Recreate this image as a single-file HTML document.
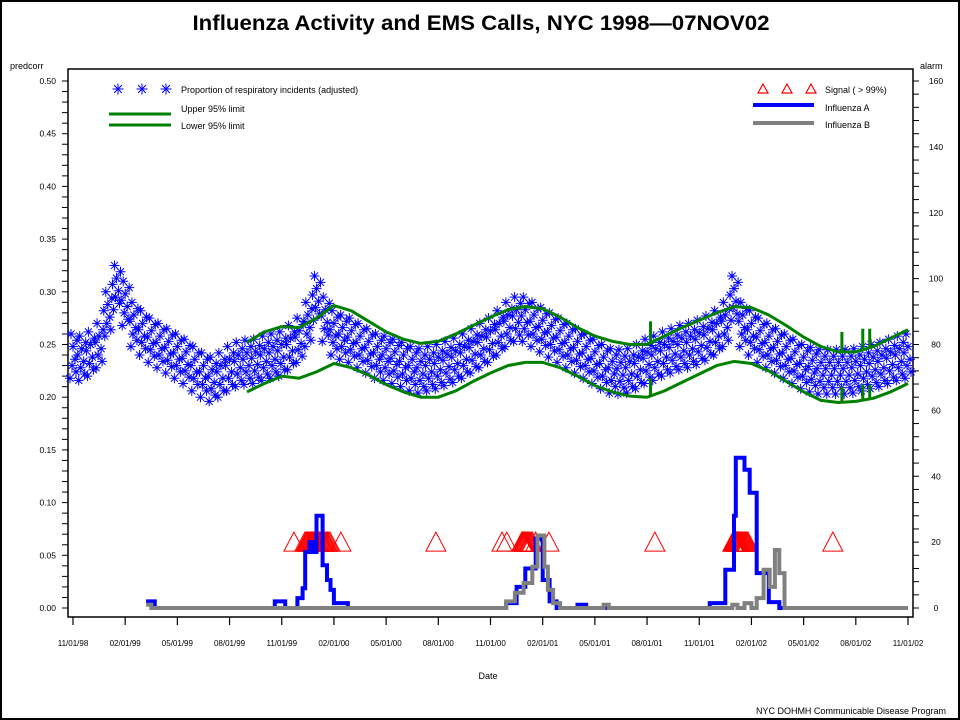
<!DOCTYPE html>
<html><head><meta charset="utf-8"><style>
html,body{margin:0;padding:0;background:#fff;}
svg{display:block;font-family:"Liberation Sans",sans-serif;}
</style></head><body>
<svg id="chart" width="960" height="720" viewBox="0 0 960 720">
<rect x="1" y="1" width="958" height="718" fill="#fff" stroke="#000" stroke-width="2"/>
<text x="481" y="30" text-anchor="middle" font-size="21" font-weight="bold" textLength="577" lengthAdjust="spacingAndGlyphs">Influenza Activity and EMS Calls, NYC 1998—07NOV02</text>
<rect x="68" y="69" width="845" height="548" fill="none" stroke="#000" stroke-width="1.5"/>
<text x="10" y="69" font-size="9">predcorr</text>
<text x="920" y="69" font-size="9">alarm</text>
<text x="488" y="679" font-size="9" text-anchor="middle">Date</text>
<text x="946" y="714" font-size="9" text-anchor="end">NYC DOHMH  Communicable Disease Program</text>
<g id="axes"></g>
<g id="stars"></g>
<g id="limits"></g>
<g id="signals"></g>
<g id="flu"></g>
<g id="legend" font-size="9">
  <g>
    <g id="legstars"></g>
    <text x="181" y="93">Proportion of respiratory incidents (adjusted)</text>
  </g>
  <g>
    <line x1="109" y1="114" x2="171" y2="114" stroke="#008000" stroke-width="3"/>
    <text x="181" y="112">Upper 95% limit</text>
  </g>
  <g>
    <line x1="109" y1="125" x2="171" y2="125" stroke="#008000" stroke-width="3"/>
    <text x="181" y="129">Lower 95% limit</text>
  </g>
  <g>
    <g id="legtri"></g>
    <text x="825" y="93">Signal ( &gt; 99%)</text>
  </g>
  <g>
    <line x1="753" y1="105" x2="814" y2="105" stroke="#0000ff" stroke-width="4"/>
    <text x="825" y="111">Influenza A</text>
  </g>
  <g>
    <line x1="753" y1="123" x2="814" y2="123" stroke="#808080" stroke-width="4"/>
    <text x="825" y="128">Influenza B</text>
  </g>
</g>
</svg>
<script>
// months since 11/01/98
const xTickLabels = ["11/01/98","02/01/99","05/01/99","08/01/99","11/01/99","02/01/00","05/01/00","08/01/00","11/01/00","02/01/01","05/01/01","08/01/01","11/01/01","02/01/02","05/01/02","08/01/02","11/01/02"];
const leftTickValues = [0,0.05,0.10,0.15,0.20,0.25,0.30,0.35,0.40,0.45,0.50];
const rightTickValues = [0,20,40,60,80,100,120,140,160];
// proportion (half-month resolution starting month 0)
const propValues = [.24,.238,.242,.25,.28,.305,.29,.27,.262,.255,.25,.245,.24,.235,.228,.222,.218,.222,.228,.232,.234,.235,.238,.24,.242,.248,.255,.27,.295,.275,.262,.258,.255,.25,.245,.24,.238,.235,.232,.228,.226,.228,.23,.233,.236,.24,.245,.25,.255,.262,.27,.275,.275,.27,.265,.26,.255,.25,.245,.24,.235,.23,.226,.225,.226,.23,.235,.238,.242,.245,.248,.25,.253,.257,.262,.27,.295,.27,.262,.255,.25,.245,.24,.235,.23,.227,.225,.225,.225,.225,.226,.228,.23,.232,.235,.238,.24];
// limits monthly from month 10 to 48
const limitStartMonth = 10;
const upperValues = [.252,.262,.267,.266,.275,.287,.282,.272,.262,.255,.251,.253,.26,.268,.276,.283,.286,.284,.276,.266,.258,.253,.25,.25,.258,.266,.273,.28,.286,.285,.278,.268,.257,.248,.243,.243,.248,.256,.264];
const lowerValues = [.205,.213,.22,.218,.224,.232,.228,.221,.212,.205,.2,.2,.206,.215,.223,.23,.233,.233,.228,.22,.211,.205,.201,.2,.206,.214,.222,.23,.234,.232,.225,.215,.205,.197,.195,.196,.199,.205,.213];
const spikeMonths = [33.2,44.2,45.4,45.8];
const spikeUpper = [.272,.262,.265,.265];
const spikeLower = [.218,.21,.212,.212];
// signals (alarm units)
const signalMonths = [12.7,13.33,13.4,13.45,13.5,13.56,13.62,13.68,13.74,13.8,13.85,13.9,13.95,14.0,14.06,14.12,14.18,14.25,14.31,14.37,14.43,14.5,14.56,14.62,14.7,14.77,15.4,20.86,24.66,24.94,25.8,25.85,25.9,25.95,26.0,26.06,26.13,26.2,26.26,26.33,26.4,26.6,27.36,33.45,37.93,37.97,38.0,38.04,38.08,38.12,38.16,38.2,38.25,38.29,38.33,38.38,38.44,38.5,38.56,38.62,38.68,38.74,38.8,43.68];
const signalValue = 20;
const fluAMonths = [4.2,4.7,11.6,12.2,12.9,13.2,13.35,13.6,13.8,14.0,14.35,14.6,14.8,15.0,15.8,24.9,25.5,26.0,26.6,27.0,27.4,27.8,29.0,29.5,36.6,37.5,38.0,38.1,38.6,38.9,39.3,40.0,40.6,48];
const fluAValues = [2,0,2,0,3,6,17,20,17,28,13,8.5,5.5,1.5,0,1.5,6.4,12,21,8.5,2,0,1,0,1.5,11.6,28,45.6,42,35,10.6,1.8,0,0];
const fluBMonths = [4.2,4.5,24.9,25.4,25.9,26.4,26.7,27.1,27.3,27.6,28.0,30.5,30.8,37.9,38.2,38.6,39.0,39.3,39.7,40.05,40.35,40.6,40.9,48];
const fluBValues = [1,0,2,4.6,7.6,12.5,22,12.5,5.5,1.5,0,1,0,1,0,1.5,0,3,11.6,6.4,17.6,10.6,0,0];

const NS="http://www.w3.org/2000/svg";
const xOf = m => 73 + m*835/48;
const yL = v => 608 - v*1054;
const yR = a => 608 - a*527/160;
function mk(tag, attrs, parent){const e=document.createElementNS(NS,tag);for(const k in attrs)e.setAttribute(k,attrs[k]);parent.appendChild(e);return e;}

const axes=document.getElementById('axes');
xTickLabels.forEach((lab,i)=>{
  const x=xOf(i*3);
  const t=mk('line',{x1:x,y1:617,x2:x,y2:625,stroke:'#000','stroke-width':1.2},axes);
  
  
  const tx=mk('text',{x:x,y:646,'font-size':8,'text-anchor':'middle'},axes);
  tx.textContent=lab;
  
  
});
for(let k=0;k<=50;k++){
  const y=yL(k/100);
  const t=mk('line',{x1:62,y1:y,x2:68,y2:y,stroke:'#000','stroke-width':1},axes);
  
  
}
leftTickValues.forEach(v=>{
  const y=yL(v);
  const tx=mk('text',{x:56,y:y+3,'font-size':8.5,'text-anchor':'end'},axes);
  tx.textContent=v.toFixed(2);
  
  
});
for(let a=0;a<=160;a+=4){
  const y=yR(a);
  const t=mk('line',{x1:913,y1:y,x2:919,y2:y,stroke:'#000','stroke-width':1},axes);
  
  
}
rightTickValues.forEach(a=>{
  const y=yR(a);
  const tx=mk('text',{x:936,y:y+3,'font-size':8.5,'text-anchor':'middle'},axes);
  tx.textContent=String(a);
  
  
});

// limits
const lim=document.getElementById('limits');
function limPath(vals,name){
  const d=vals.map((v,i)=>(i?'L':'M')+xOf(limitStartMonth+i).toFixed(1)+','+yL(v).toFixed(1)).join(' ');
  const p=mk('path',{d:d,fill:'none',stroke:'#008000','stroke-width':3,'stroke-linejoin':'round'},lim);
  
  
}
limPath(upperValues,'upper-95-limit-line');
limPath(lowerValues,'lower-95-limit-line');
function interp(vals,m){const f=m-limitStartMonth;const i=Math.floor(f);const t=f-i;return vals[i]+(vals[Math.min(i+1,vals.length-1)]-vals[i])*t;}
spikeMonths.forEach((m,i)=>{
  const x=xOf(m);
  const s1=mk('line',{x1:x,y1:yL(interp(upperValues,m)),x2:x,y2:yL(spikeUpper[i]),stroke:'#008000','stroke-width':3},lim);
  
  
  const s2=mk('line',{x1:x,y1:yL(interp(lowerValues,m)),x2:x,y2:yL(spikeLower[i]),stroke:'#008000','stroke-width':3},lim);
  
  
});

// stars
function star(g,cx,cy,r){
  const d=`M${cx-r},${cy}L${cx+r},${cy}M${cx},${cy-r}L${cx},${cy+r}M${cx-r*.7},${cy-r*.7}L${cx+r*.7},${cy+r*.7}M${cx-r*.7},${cy+r*.7}L${cx+r*.7},${cy-r*.7}`;
  return mk('path',{d:d,stroke:'#0000ff','stroke-width':1,fill:'none'},g);
}
const sg=document.getElementById('stars');
const offV=[-0.022,-0.016,-0.01,-0.004,0.002,0.008,0.014,0.02];
const offX=[-3,3,-1,2,-4,0,4,-2];
propValues.forEach((v,i)=>{
  const x=xOf(i*0.5);
  offV.forEach((o,j)=>{
    const px=x+offX[j];
    if(px<70||px>911)return;
    const s=star(sg,px,yL(v+o),5);
    
    
  });
});
[118,142,166].forEach(x=>{const s=star(document.getElementById('legstars'),x,89,5.5);});

// signals
function tri(g,cx,cy){return mk('path',{d:`M${cx},${cy-10}L${cx+10},${cy+9}L${cx-10},${cy+9}Z`,fill:'none',stroke:'#ff0000','stroke-width':1},g);}
const tg=document.getElementById('signals');
signalMonths.forEach(m=>{
  const t=tri(tg,xOf(m),yR(signalValue));
  
  
});
[763,787,811].forEach(x=>{const t=mk('path',{d:`M${x},84L${x+5},93L${x-5},93Z`,fill:'none',stroke:'#ff0000','stroke-width':1.2},document.getElementById('legtri'));});

// flu step lines
const fg=document.getElementById('flu');
function stepPath(ms,vs,color,name){
  let d='M'+xOf(ms[0]).toFixed(1)+','+yR(vs[0]).toFixed(1);
  for(let i=1;i<ms.length;i++){
    d+='H'+xOf(ms[i]).toFixed(1)+'V'+yR(vs[i]).toFixed(1);
  }
  const p=mk('path',{d:d,fill:'none',stroke:color,'stroke-width':4},fg);
  
  
}
stepPath(fluAMonths,fluAValues,'#0000ff','influenza-a-line');
stepPath(fluBMonths,fluBValues,'#808080','influenza-b-line');
</script>
</body></html>
